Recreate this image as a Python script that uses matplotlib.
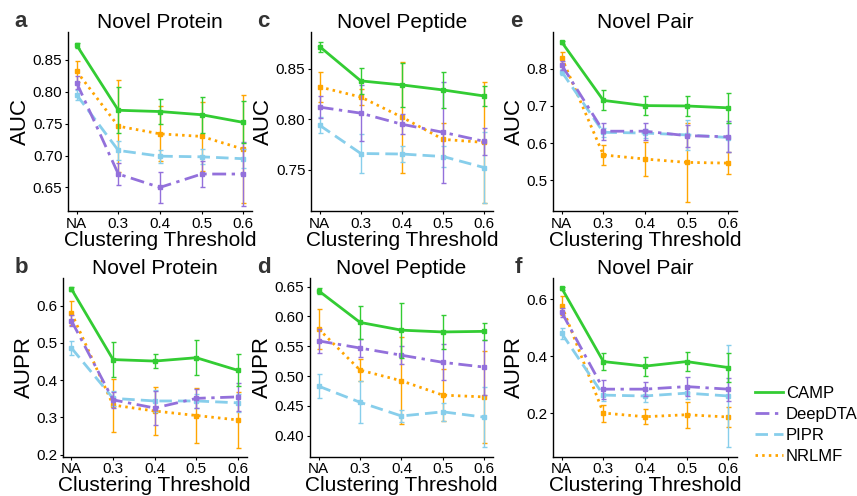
import matplotlib
matplotlib.use("Agg")
import matplotlib.pyplot as plt
from matplotlib.lines import Line2D

plt.rcParams['font.family'] = ['Liberation Sans', 'DejaVu Sans']

categories = ['NA', '0.3', '0.4', '0.5', '0.6']
methods = ['CAMP', 'DeepDTA', 'PIPR', 'NRLMF']

# Panel a: AUC, Novel Protein
auc_protein = {
    'CAMP':    [0.873, 0.771, 0.769, 0.764, 0.752],
    'DeepDTA': [0.814, 0.671, 0.650, 0.671, 0.671],
    'PIPR':    [0.795, 0.708, 0.699, 0.698, 0.695],
    'NRLMF':   [0.832, 0.746, 0.734, 0.730, 0.710],
}
auc_protein_err = {
    'CAMP':    [0.004, 0.036, 0.019, 0.028, 0.033],
    'DeepDTA': [0.010, 0.018, 0.024, 0.020, 0.050],
    'PIPR':    [0.008, 0.015, 0.010, 0.012, 0.015],
    'NRLMF':   [0.016, 0.072, 0.043, 0.054, 0.085],
}
# Panel c: AUC, Novel Peptide
auc_peptide = {
    'CAMP':    [0.872, 0.838, 0.834, 0.829, 0.823],
    'DeepDTA': [0.812, 0.806, 0.795, 0.787, 0.778],
    'PIPR':    [0.794, 0.766, 0.7655, 0.763, 0.752],
    'NRLMF':   [0.832, 0.822, 0.802, 0.780, 0.777],
}
auc_peptide_err = {
    'CAMP':    [0.005, 0.013, 0.022, 0.018, 0.010],
    'DeepDTA': [0.011, 0.028, 0.010, 0.050, 0.013],
    'PIPR':    [0.008, 0.019, 0.008, 0.010, 0.035],
    'NRLMF':   [0.015, 0.008, 0.055, 0.016, 0.060],
}
# Panel e: AUC, Novel Pair
auc_pair = {
    'CAMP':    [0.872, 0.715, 0.701, 0.700, 0.695],
    'DeepDTA': [0.810, 0.632, 0.632, 0.620, 0.617],
    'PIPR':    [0.792, 0.629, 0.627, 0.622, 0.615],
    'NRLMF':   [0.830, 0.568, 0.557, 0.548, 0.546],
}
auc_pair_err = {
    'CAMP':    [0.004, 0.027, 0.025, 0.026, 0.040],
    'DeepDTA': [0.012, 0.023, 0.023, 0.030, 0.042],
    'PIPR':    [0.008, 0.012, 0.012, 0.040, 0.040],
    'NRLMF':   [0.015, 0.027, 0.045, 0.106, 0.030],
}
# Panel b: AUPR, Novel Protein
aupr_protein = {
    'CAMP':    [0.644, 0.455, 0.451, 0.460, 0.426],
    'DeepDTA': [0.559, 0.347, 0.325, 0.351, 0.355],
    'PIPR':    [0.486, 0.351, 0.344, 0.344, 0.339],
    'NRLMF':   [0.580, 0.333, 0.317, 0.305, 0.293],
}
aupr_protein_err = {
    'CAMP':    [0.006, 0.046, 0.019, 0.047, 0.043],
    'DeepDTA': [0.015, 0.022, 0.045, 0.025, 0.038],
    'PIPR':    [0.018, 0.020, 0.030, 0.020, 0.025],
    'NRLMF':   [0.032, 0.071, 0.064, 0.075, 0.074],
}
# Panel d: AUPR, Novel Peptide
aupr_peptide = {
    'CAMP':    [0.643, 0.590, 0.577, 0.574, 0.575],
    'DeepDTA': [0.559, 0.547, 0.535, 0.523, 0.515],
    'PIPR':    [0.483, 0.456, 0.433, 0.440, 0.431],
    'NRLMF':   [0.579, 0.510, 0.492, 0.468, 0.465],
}
aupr_peptide_err = {
    'CAMP':    [0.005, 0.028, 0.046, 0.029, 0.014],
    'DeepDTA': [0.020, 0.015, 0.015, 0.030, 0.046],
    'PIPR':    [0.020, 0.035, 0.010, 0.015, 0.050],
    'NRLMF':   [0.033, 0.019, 0.073, 0.044, 0.077],
}
# Panel f: AUPR, Novel Pair
aupr_pair = {
    'CAMP':    [0.639, 0.381, 0.365, 0.381, 0.360],
    'DeepDTA': [0.554, 0.284, 0.284, 0.293, 0.284],
    'PIPR':    [0.480, 0.263, 0.260, 0.270, 0.260],
    'NRLMF':   [0.577, 0.200, 0.187, 0.194, 0.186],
}
aupr_pair_err = {
    'CAMP':    [0.006, 0.030, 0.033, 0.034, 0.050],
    'DeepDTA': [0.015, 0.033, 0.024, 0.034, 0.040],
    'PIPR':    [0.018, 0.020, 0.020, 0.020, 0.180],
    'NRLMF':   [0.033, 0.030, 0.027, 0.045, 0.034],
}

colors = {'CAMP': '#33CC33', 'DeepDTA': '#9370DB', 'PIPR': '#87CEEB', 'NRLMF': '#FFA500'}
styles = {'CAMP': '-', 'DeepDTA': (0, (5, 2, 1.2, 2)), 'PIPR': (0, (4.5, 2.2)), 'NRLMF': (0, (0.9, 1.5))}
zorders = {'CAMP': 6, 'DeepDTA': 5, 'PIPR': 4, 'NRLMF': 3}

panels = [
    # letter, title, ylabel, data, err, yticks, tick format, ylim, rect
    ('a', 'Novel Protein', 'AUC', auc_protein, auc_protein_err,
     [0.65, 0.70, 0.75, 0.80, 0.85], '{:.2f}', (0.613, 0.893), [0.0793, 0.5746, 0.2147, 0.3599]),
    ('c', 'Novel Peptide', 'AUC', auc_peptide, auc_peptide_err,
     [0.75, 0.80, 0.85], '{:.2f}', (0.709, 0.886), [0.3629, 0.5746, 0.2124, 0.3599]),
    ('e', 'Novel Pair', 'AUC', auc_pair, auc_pair_err,
     [0.5, 0.6, 0.7, 0.8], '{:.1f}', (0.417, 0.898), [0.6453, 0.5746, 0.2147, 0.3599]),
    ('b', 'Novel Protein', 'AUPR', aupr_protein, aupr_protein_err,
     [0.2, 0.3, 0.4, 0.5, 0.6], '{:.1f}', (0.195, 0.673), [0.0732, 0.0796, 0.2147, 0.3593]),
    ('d', 'Novel Peptide', 'AUPR', aupr_peptide, aupr_peptide_err,
     [0.40, 0.45, 0.50, 0.55, 0.60, 0.65], '{:.2f}', (0.365, 0.664), [0.3617, 0.0796, 0.2135, 0.3593]),
    ('f', 'Novel Pair', 'AUPR', aupr_pair, aupr_pair_err,
     [0.2, 0.4, 0.6], '{:.1f}', (0.047, 0.674), [0.6453, 0.0796, 0.2147, 0.3593]),
]
letter_pos = {'a': (0.017, 0.946), 'c': (0.300, 0.946), 'e': (0.595, 0.946),
              'b': (0.017, 0.450), 'd': (0.300, 0.450), 'f': (0.600, 0.450)}

fig = plt.figure(figsize=(8.57, 4.96), dpi=100)
x = list(range(len(categories)))

for letter, title, ylab, data, err, yticks, fmt, ylim, rect in panels:
    ax = fig.add_axes(rect)
    for m in methods:
        ax.errorbar(x, data[m], yerr=err[m], color=colors[m], linestyle=styles[m],
                    linewidth=2.0, marker='s', markersize=2.5, capsize=1.8,
                    elinewidth=1.0, capthick=1.0, zorder=zorders[m])
    ax.set_xlim(-0.21, 4.21)
    ax.set_ylim(*ylim)
    ax.set_xticks(x)
    ax.set_xticklabels(categories)
    ax.set_yticks(yticks)
    ax.set_yticklabels([fmt.format(t) for t in yticks])
    ax.tick_params(labelsize=11, length=2.5, width=0.8, pad=1.5)
    for s in ('top', 'right'):
        ax.spines[s].set_visible(False)
    for s in ('left', 'bottom'):
        ax.spines[s].set_linewidth(1.0)
    ax.set_title(title, fontsize=15, pad=1)
    ax.set_ylabel(ylab, fontsize=16, labelpad=1)
    ax.set_xlabel('Clustering Threshold', fontsize=15, labelpad=0)
    fig.text(letter_pos[letter][0], letter_pos[letter][1], letter, fontsize=16,
             fontweight='bold', color='#333333')

handles = [Line2D([], [], color=colors[m], linestyle=styles[m], linewidth=2.0) for m in methods]
fig.legend(handles, methods, loc='upper left', bbox_to_anchor=(0.881, 0.222),
           frameon=False, fontsize=12, handlelength=1.7, handletextpad=0.15,
           labelspacing=0.36, borderpad=0, borderaxespad=0)

fig.savefig('out.png', dpi=100)
